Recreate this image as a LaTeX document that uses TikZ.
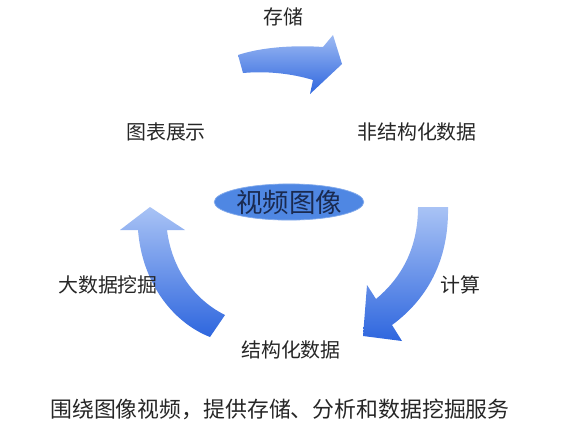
\documentclass[tikz,border=0pt]{standalone}
\usepackage{fontspec}
\setmainfont{Noto Sans CJK SC}
\usetikzlibrary{shapes.geometric}
\definecolor{arrowlight}{HTML}{A9C3F5}
\definecolor{arrowdark}{HTML}{2E66DE}
\definecolor{ovalfill}{HTML}{4F87E3}
\definecolor{ovaltext}{HTML}{1A2A50}
\tikzset{
  lbl/.style={text=black!85, inner sep=0pt, font=\fontsize{11.3pt}{13pt}\selectfont},
  bigarrow/.style={top color=arrowlight, bottom color=arrowdark, draw=none},
}
\begin{document}
\begin{tikzpicture}[x=0.5669pt, y=-0.5669pt]
  \useasboundingbox (0,0) rectangle (583,437);
  % top arrow
  \path[bigarrow, top color=arrowlight!90!arrowdark] (238,55) .. controls (262,47) and (295,45) .. (323,47)
    -- (333,35) -- (342,64) -- (310,94) -- (313,80)
    .. controls (290,73) and (265,71) .. (243,73) -- cycle;
  % right arrow
  \path[bigarrow] (418,207) -- (448,207) .. controls (449,262) and (426,300) .. (392,325)
    -- (402,341) -- (363,336) -- (367,285) -- (376,299)
    .. controls (400,279) and (418,250) .. cycle;
  % left arrow
  \path[bigarrow] (225,315) -- (210,337) .. controls (172,322) and (142,282) .. (138,230)
    -- (120,230) -- (150,207) -- (185,230) -- (167,230)
    .. controls (172,270) and (195,300) .. cycle;
  \node[lbl] (store) at (283,17) {存储};
  \node[lbl] (chart) at (166,132) {图表展示};
  \node[lbl] (unstruct) at (417,132) {非结构化数据};
  \node[lbl] (compute) at (460,285) {计算};
  \node[lbl] (mining) at (108,285) {大数据挖掘};
  \node[lbl] (struct) at (291,350) {结构化数据};
  \node[ellipse, fill=ovalfill, draw=ovalfill!70!white, inner sep=0pt,
    minimum width=76pt, minimum height=20.5pt, text=ovaltext,
    font=\fontsize{15pt}{17pt}\selectfont] (video) at (289,202) {视频图像};
  \node[lbl, font=\fontsize{12.4pt}{14pt}\selectfont] (caption) at (280,409)
    {围绕图像视频，提供存储、分析和数据挖掘服务};
\end{tikzpicture}
\end{document}
